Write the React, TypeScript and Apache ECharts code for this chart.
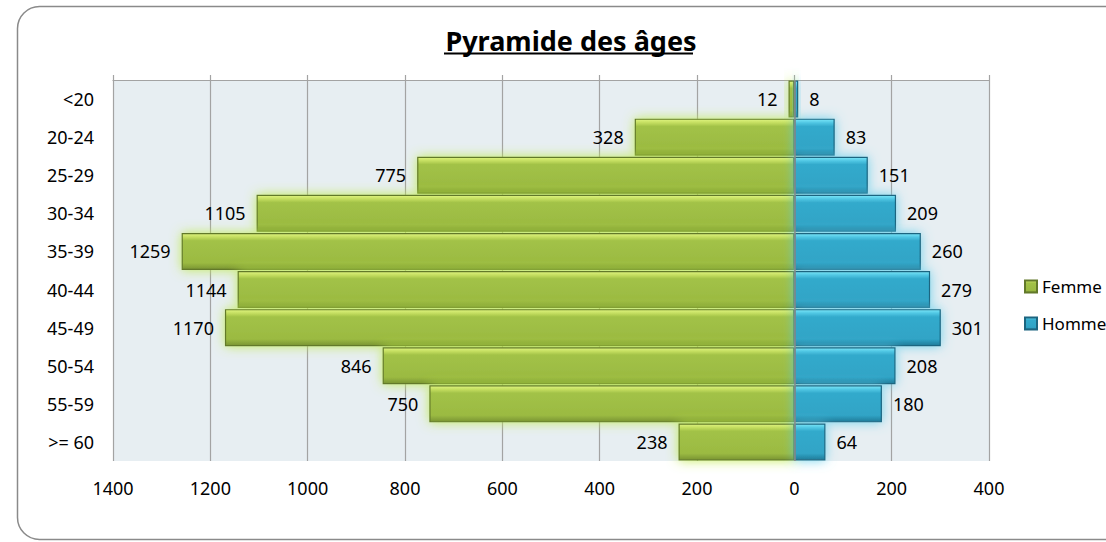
import React, { useEffect, useRef } from "react";
import * as echarts from "echarts";

const categories = ["<20", "20-24", "25-29", "30-34", "35-39", "40-44", "45-49", "50-54", "55-59", ">= 60"];
const femme = [12, 328, 775, 1105, 1259, 1144, 1170, 846, 750, 238];
const homme = [8, 83, 151, 209, 260, 279, 301, 208, 180, 64];
const axisMin = -1400;
const axisMax = 400;
const axisStep = 200;
const title = "Pyramide des âges";

const FONT = "Noto Sans";

export default function App() {
  const ref = useRef<HTMLDivElement>(null);
  useEffect(() => {
    if (!ref.current) return;
    const chart = echarts.init(ref.current, null, { renderer: "svg" });
    const greenGrad = new echarts.graphic.LinearGradient(0, 0, 0, 1, [
      { offset: 0, color: "#dff47f" },
      { offset: 0.1, color: "#c3dd5f" },
      { offset: 0.2, color: "#a2c247" },
      { offset: 0.82, color: "#9bba42" },
      { offset: 1, color: "#7a9532" },
    ]);
    const blueGrad = new echarts.graphic.LinearGradient(0, 0, 0, 1, [
      { offset: 0, color: "#7ae6f8" },
      { offset: 0.1, color: "#4fc6e3" },
      { offset: 0.2, color: "#33aacc" },
      { offset: 0.82, color: "#30a4c6" },
      { offset: 1, color: "#217c9a" },
    ]);
    chart.setOption({
      animation: false,
      textStyle: { fontFamily: FONT },
      graphic: [
        {
          type: "rect",
          shape: { x: 17.5, y: 6.5, width: 1120, height: 533, r: 22 },
          style: { fill: "none", stroke: "#8a8a8a", lineWidth: 1.5 },
          z: -10,
        },
        {
          type: "line",
          shape: { x1: 444, y1: 53.5, x2: 693, y2: 53.5 },
          style: { stroke: "#000", lineWidth: 2 },
        },
      ],
      title: {
        text: title,
        left: 566,
        textAlign: "center",
        top: 22,
        textStyle: {
          fontFamily: FONT,
          fontSize: 27,
          fontWeight: "bold",
          color: "#000",
        },
      },
      legend: {
        orient: "vertical",
        left: 1019,
        top: 273,
        itemWidth: 12,
        itemHeight: 12,
        itemGap: 20,
        icon: "rect",
        textStyle: { fontFamily: FONT, fontSize: 17, color: "#000" },
        data: ["Femme", "Homme"],
      },
      grid: {
        left: 113,
        right: 117,
        top: 80,
        bottom: 81,
        show: true,
        backgroundColor: "#e7eef2",
        borderWidth: 0,
      },
      xAxis: [
        {
          type: "value",
          min: axisMin,
          max: axisMax,
          interval: axisStep,
          position: "bottom",
          axisLine: { show: false },
          axisTick: { show: false },
          axisLabel: {
            margin: 18,
            fontSize: 18,
            fontFamily: FONT,
            color: "#000",
            formatter: (v: number) => String(Math.abs(v)),
          },
          splitLine: { show: true, lineStyle: { color: "#a3a3a3", width: 1.2 } },
        },
        {
          type: "value",
          min: axisMin,
          max: axisMax,
          interval: axisStep,
          position: "top",
          axisLine: { show: true, lineStyle: { color: "#a3a3a3", width: 1.2 } },
          axisTick: { show: true, length: 5, lineStyle: { color: "#a3a3a3", width: 1.2 } },
          axisLabel: { show: false },
          splitLine: { show: false },
        },
      ],
      yAxis: {
        type: "category",
        data: categories,
        inverse: true,
        axisLine: { show: false, onZero: false },
        axisTick: { show: false },
        axisLabel: { margin: 19, fontSize: 18, fontFamily: FONT, color: "#000" },
      },
      series: [
        {
          name: "Femme",
          type: "bar",
          stack: "total",
          barCategoryGap: "3%",
          data: femme.map((v) => -v),
          itemStyle: {
            color: greenGrad,
            borderColor: "#62792a",
            borderWidth: 1.2,
            shadowBlur: 12,
            shadowColor: "rgba(190,235,70,0.9)",
          },
          label: {
            show: true,
            position: "left",
            distance: 11,
            fontSize: 18,
            fontFamily: FONT,
            color: "#000",
            formatter: (p: any) => String(Math.abs(p.value)),
          },
        },
        {
          name: "Homme",
          type: "bar",
          stack: "total",
          barCategoryGap: "3%",
          data: homme,
          itemStyle: {
            color: blueGrad,
            borderColor: "#1c6580",
            borderWidth: 1.2,
            shadowBlur: 12,
            shadowColor: "rgba(90,205,235,0.85)",
          },
          label: {
            show: true,
            position: "right",
            distance: 11,
            fontSize: 18,
            fontFamily: FONT,
            color: "#000",
          },
          markLine: {
            silent: true,
            symbol: "none",
            label: { show: false },
            lineStyle: { color: "#8c8c8c", width: 1.5, type: "solid" },
            data: [{ xAxis: 0 }],
            z: 10,
          },
        },
      ],
    });
    return () => chart.dispose();
  }, []);
  return (
    <div
      ref={ref}
      style={{ position: "fixed", left: 0, top: 0, width: 1106, height: 542, background: "#fff" }}
    />
  );
}
